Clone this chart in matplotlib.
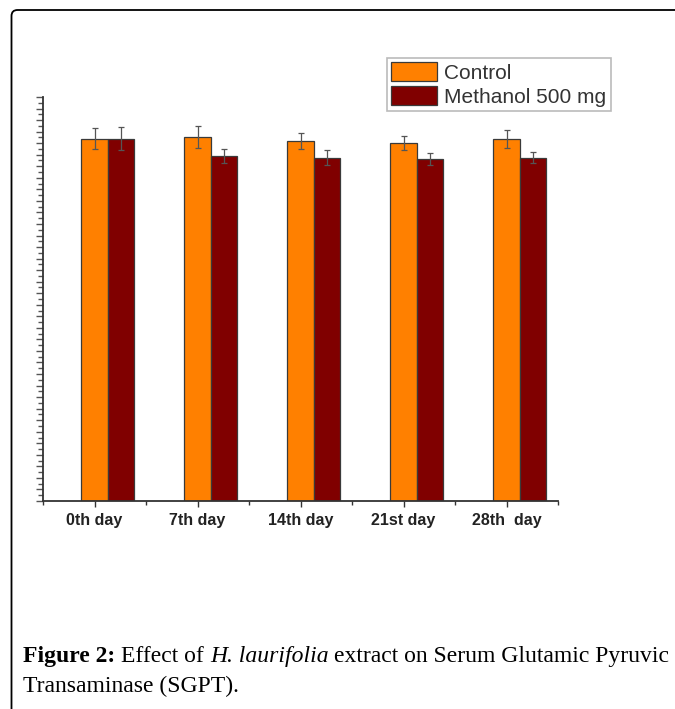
import numpy as np
import matplotlib
matplotlib.use('Agg')
import matplotlib.pyplot as plt
from matplotlib.patches import FancyBboxPatch
from matplotlib.ticker import MultipleLocator, FixedLocator, NullFormatter

# ---- data (y axis has no labels) ----
days = ['0th day', '7th day', '14th day', '21st day', '28th  day']
control = [62.8, 63.0, 62.4, 62.1, 62.7]
control_err = [1.8, 1.9, 1.4, 1.2, 1.55]
methanol = [62.8, 59.8, 59.5, 59.2, 59.5]
methanol_err = [2.0, 1.2, 1.3, 1.05, 0.95]

W, H = 675, 709
fig = plt.figure(figsize=(W / 100, H / 100), dpi=100)

# axes placed in pixel terms
left, right, top, bottom = 43, 558, 97, 501
ax = fig.add_axes([left / W, 1 - bottom / H, (right - left) / W, (bottom - top) / H])

x = np.arange(len(days))
bw = 0.257
edge = '#3a3a3a'
ax.bar(x, control, bw, color='#ff8000', edgecolor=edge, linewidth=0.9, label='Control', zorder=2)
ax.bar(x + bw, methanol, bw, color='#800000', edgecolor=edge, linewidth=0.9, label='Methanol 500 mg', zorder=2)
ax.errorbar(x, control, yerr=control_err, fmt='none', ecolor='#555555', elinewidth=0.9, capsize=2.3, capthick=0.9, zorder=3)
ax.errorbar(x + bw, methanol, yerr=methanol_err, fmt='none', ecolor='#555555', elinewidth=0.9, capsize=2.3, capthick=0.9, zorder=3)

ax.set_xlim(-0.5, 4.5)
ax.set_ylim(0, 70)
ax.spines['top'].set_visible(False)
ax.spines['right'].set_visible(False)
for s in ('left', 'bottom'):
    ax.spines[s].set_color('#333333')
    ax.spines[s].set_linewidth(1.3)

ax.set_xticks(x)
ax.set_xticklabels(days, fontsize=11.5, fontweight='bold', family='Liberation Sans', color='#222222')
ax.xaxis.set_minor_locator(FixedLocator(np.arange(-0.5, 4.6, 1.0)))
ax.tick_params(axis='x', which='major', direction='out', length=4, width=1, color='#333333', pad=5)
ax.tick_params(axis='x', which='minor', direction='out', length=3, width=1, color='#333333')

ax.yaxis.set_major_locator(MultipleLocator(2))
ax.yaxis.set_minor_locator(MultipleLocator(1))
ax.yaxis.set_major_formatter(NullFormatter())
ax.tick_params(axis='y', which='major', direction='out', length=5, width=1, color='#555555')
ax.tick_params(axis='y', which='minor', direction='out', length=3.5, width=1, color='#555555')

leg = ax.legend(loc='upper left', bbox_to_anchor=(387 / W, 1 - 58 / H), bbox_transform=fig.transFigure,
                prop={'family': 'Liberation Sans', 'size': 15}, fancybox=False, frameon=True,
                handlelength=2.2, handleheight=1.0, handletextpad=0.35, labelspacing=0.18,
                borderpad=0.2, borderaxespad=0)
leg.get_frame().set_edgecolor('#aaaaaa')
leg.get_frame().set_linewidth(1.2)
for t in leg.get_texts():
    t.set_color('#333333')

# page frame with rounded top-left corner
frame = FancyBboxPatch((0.115, -1.0), 8.0, (H - 10) / 100 + 1.0, boxstyle='round,pad=0,rounding_size=0.06',
                       transform=fig.dpi_scale_trans, fill=False, edgecolor='black', linewidth=1.3,
                       clip_on=False)
fig.patches.append(frame)

# caption built from pieces
fig.canvas.draw()
r = fig.canvas.get_renderer()
cap_size = 17
serif = 'Liberation Serif'


def put(xpx, ypx, s, **kw):
    t = fig.text(xpx / W, 1 - ypx / H, s, fontsize=cap_size, family=serif, va='baseline', ha='left', **kw)
    return xpx + t.get_window_extent(r).width


probe_a = fig.text(0, 0, 'aa', fontsize=cap_size, family=serif)
probe_b = fig.text(0, 0, 'a a', fontsize=cap_size, family=serif)
sp = probe_b.get_window_extent(r).width - probe_a.get_window_extent(r).width
probe_a.remove()
probe_b.remove()

xx = put(23, 662, 'Figure 2:', fontweight='bold')
xx = put(xx + sp, 662, 'Effect of')
xx = put(xx + sp, 662, 'H. laurifolia', fontstyle='italic')
xx = put(xx + sp, 662, 'extract on Serum Glutamic Pyruvic')
put(23, 692, 'Transaminase (SGPT).')

fig.savefig('out.png', dpi=100)
